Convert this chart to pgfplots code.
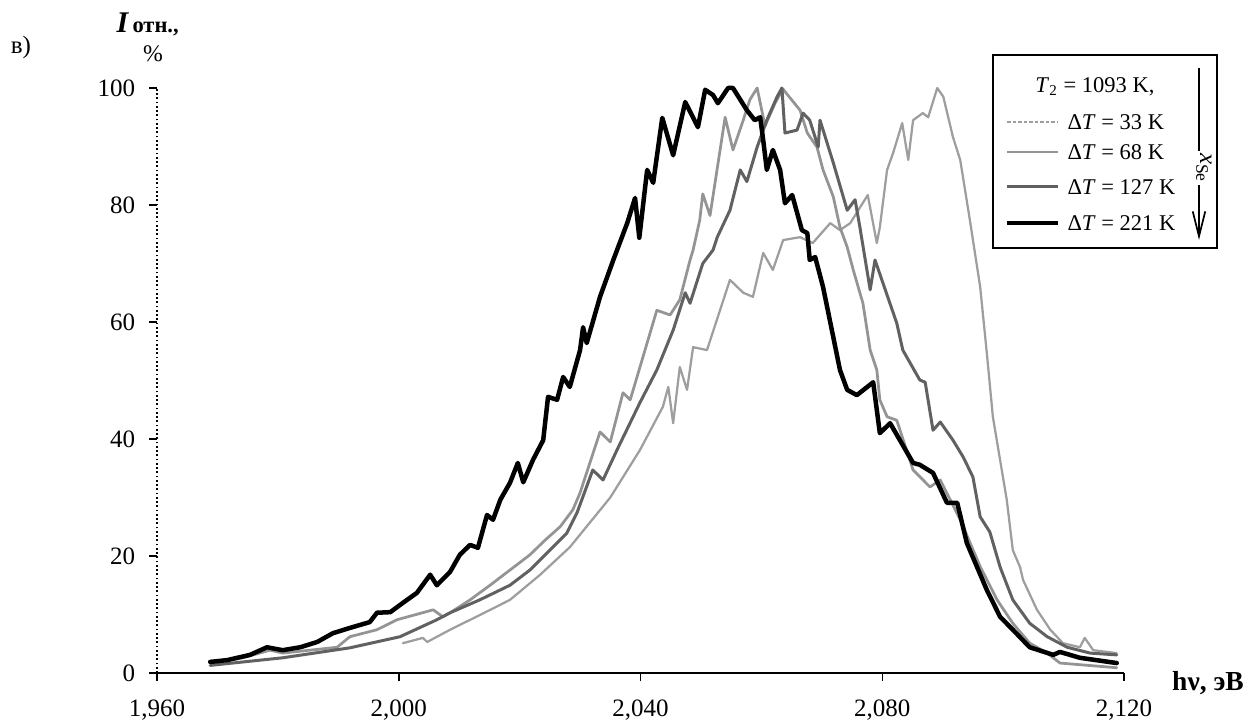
\documentclass[border=0pt]{standalone}
\usepackage{fontspec}
\setmainfont{Liberation Serif}
\usepackage{pgfplots}
\pgfplotsset{compat=1.18}
\usetikzlibrary{arrows.meta}
\definecolor{cA}{gray}{0.62}
\definecolor{cB}{gray}{0.58}
\definecolor{cC}{gray}{0.38}
\begin{document}
\begin{tikzpicture}
\path[use as bounding box] (0,0) rectangle (500pt,288.8pt);
\begin{axis}[
  at={(62.8pt,19.6pt)}, anchor=south west,
  scale only axis, width=386.8pt, height=234pt,
  xmin=1960, xmax=2120, ymin=0, ymax=100,
  axis lines=left, axis line style={-, black, line width=0.7pt},
  every outer y axis line/.append style={densely dotted, line width=0.8pt},
  xtick={1960,2000,2040,2080,2120},
  xticklabels={{1,960},{2,000},{2,040},{2,080},{2,120}},
  ytick={0,20,40,60,80,100},
  tick align=outside, major tick length=3.2pt,
  tick style={black, line width=0.6pt, solid},
  ticklabel style={font=\fontsize{10}{12}\selectfont},
  xticklabel style={yshift=-4pt},
  yticklabel style={xshift=-2pt},
  /pgf/number format/assume math mode=true,
  no markers, clip=false,
  every axis plot/.append style={line join=round, line cap=round},
]
% Delta T = 33 K
\addplot[color=cA, line width=0.9pt] coordinates {
(2000.7,5.1)(2004.0,6.0)(2004.7,5.3)(2008.5,7.4)(2013.4,9.9)(2018.4,12.5)
(2023.4,16.8)(2028.3,21.5)(2035.0,30.0)(2039.9,38.1)(2043.7,45.5)(2044.6,48.9)
(2045.4,42.7)(2046.5,52.3)(2047.7,48.4)(2048.7,55.7)(2051.0,55.2)(2054.8,67.2)
(2057.0,65.0)(2058.6,64.3)(2060.3,71.8)(2061.9,68.9)(2063.6,74.0)(2066.4,74.5)
(2068.5,73.5)(2071.4,76.9)(2073.0,75.7)(2074.7,76.9)(2077.6,81.7)(2079.1,73.5)
(2079.6,76.2)(2080.8,86.0)(2081.8,88.9)(2083.3,94.0)(2084.3,87.7)(2085.1,94.5)
(2086.7,95.7)(2087.6,95.0)(2089.1,100.0)(2090.1,98.5)(2091.7,91.6)(2092.9,87.7)
(2094.5,77.4)(2096.2,66.0)(2097.3,54.7)(2098.3,43.8)(2100.6,29.6)(2101.6,21.0)
(2102.8,18.1)(2103.3,15.9)(2105.6,10.8)(2107.8,7.4)(2109.9,5.1)(2112.7,4.4)
(2113.5,6.0)(2114.9,3.9)(2118.8,3.4)
};
% Delta T = 68 K
\addplot[color=cB, line width=1.1pt] coordinates {
(1968.8,1.7)(1974.2,2.6)(1978.7,3.9)(1980.8,3.4)(1985.3,3.9)(1989.8,4.4)
(1991.9,6.2)(1996.4,7.4)(1999.7,9.1)(2005.7,10.8)(2007.3,9.6)(2008.5,10.3)
(2011.8,12.5)(2015.1,15.0)(2018.4,17.6)(2021.7,20.2)(2024.2,22.7)(2026.7,25.0)
(2028.8,27.9)(2030.0,30.8)(2033.3,41.2)(2035.0,39.5)(2037.1,47.9)(2038.3,46.7)
(2042.7,62.0)(2044.9,61.2)(2046.5,63.8)(2048.2,70.6)(2048.7,72.3)(2049.8,77.4)
(2050.3,81.9)(2051.5,78.2)(2054.0,95.0)(2055.3,89.4)(2057.0,94.5)(2058.1,98.0)
(2059.3,100.0)(2060.6,93.5)(2062.3,97.5)(2063.6,99.8)(2064.2,99.0)(2066.4,96.2)
(2067.6,92.3)(2069.2,89.9)(2070.2,86.0)(2071.9,81.4)(2073.0,76.2)(2074.2,72.8)
(2075.2,68.9)(2076.8,63.2)(2078.0,55.2)(2079.1,51.8)(2079.6,46.7)(2080.8,43.8)
(2082.4,43.2)(2085.1,34.7)(2087.9,31.8)(2089.6,33.0)(2092.9,26.2)(2096.2,18.2)
(2099.0,12.5)(2101.6,8.5)(2104.4,5.1)(2107.3,3.4)(2109.4,1.7)(2118.8,0.9)
};
% Delta T = 127 K
\addplot[color=cC, line width=1.2pt] coordinates {
(1968.8,1.3)(1980.8,2.6)(1991.9,4.3)(2000.2,6.2)(2006.3,9.1)(2008.5,10.3)
(2013.4,12.5)(2018.4,15.0)(2021.7,17.6)(2025.0,21.0)(2027.8,23.9)(2029.5,27.4)
(2032.1,34.7)(2033.8,33.0)(2036.1,38.1)(2039.9,46.2)(2042.7,51.8)(2045.4,58.6)
(2047.4,65.0)(2048.2,63.2)(2050.3,70.0)(2052.0,72.3)(2052.7,74.5)(2054.8,79.1)
(2056.5,86.0)(2057.6,84.0)(2059.3,89.9)(2060.9,94.5)(2062.6,98.5)(2063.4,100.0)
(2063.9,92.3)(2065.9,92.8)(2066.9,95.7)(2068.0,94.5)(2069.4,89.9)(2069.7,94.5)
(2071.9,87.2)(2074.2,79.1)(2075.5,80.9)(2076.3,76.2)(2078.0,65.5)(2078.8,70.6)
(2080.1,66.7)(2082.4,59.8)(2083.4,55.2)(2086.2,50.1)(2087.1,49.7)(2088.4,41.5)
(2089.6,42.9)(2091.7,39.8)(2093.4,36.9)(2095.0,33.5)(2096.2,26.7)(2097.8,24.1)
(2099.5,18.1)(2101.6,12.5)(2104.4,8.5)(2107.3,6.2)(2110.6,4.4)(2114.4,3.4)
(2118.8,3.1)
};
% Delta T = 221 K
\addplot[color=black, line width=1.8pt] coordinates {
(1968.8,1.9)(1971.6,2.2)(1975.4,3.1)(1978.2,4.4)(1980.8,3.9)(1983.7,4.4)
(1986.5,5.3)(1989.1,6.8)(1991.9,7.7)(1995.2,8.7)(1996.4,10.3)(1998.6,10.4)
(2000.7,12.0)(2003.0,13.7)(2005.2,16.8)(2006.3,15.0)(2008.5,17.3)(2010.1,20.2)
(2011.8,21.9)(2013.1,21.4)(2014.6,27.0)(2015.6,26.2)(2016.8,29.6)(2018.4,32.5)
(2019.7,35.9)(2020.6,32.6)(2022.2,36.4)(2023.9,39.8)(2024.7,47.2)(2026.2,46.7)
(2027.2,50.6)(2028.3,48.9)(2030.0,55.2)(2030.5,59.1)(2031.1,56.4)(2033.3,64.3)
(2035.5,70.6)(2037.8,76.9)(2039.1,81.2)(2039.8,74.4)(2041.1,86.0)(2042.1,83.8)
(2043.6,94.9)(2045.4,88.5)(2047.4,97.6)(2049.5,93.3)(2050.7,99.7)(2052.0,98.8)
(2052.8,97.4)(2054.5,100.0)(2055.3,100.0)(2057.6,96.2)(2058.9,94.5)(2059.8,95.0)
(2060.3,91.1)(2060.9,86.0)(2061.9,89.4)(2063.1,86.0)(2063.9,80.3)(2065.1,81.7)
(2066.7,75.7)(2067.6,75.2)(2068.0,70.6)(2068.9,71.1)(2070.2,66.0)(2071.9,57.4)
(2073.0,51.8)(2074.2,48.4)(2075.8,47.5)(2078.5,49.7)(2079.6,41.0)(2081.3,42.7)
(2085.1,35.9)(2086.2,35.6)(2088.4,34.2)(2090.7,29.1)(2092.4,29.1)(2094.0,22.2)
(2097.3,14.2)(2099.5,9.6)(2101.6,7.4)(2104.4,4.4)(2108.3,3.1)(2109.4,3.6)
(2112.7,2.6)(2118.8,1.7)
};
\end{axis}
\begin{scope}[x=0.4pt, y=-0.4pt, shift={(0,288.8pt)}]
  % axis titles
  \node[anchor=base west, inner sep=0pt, font=\bfseries\itshape\fontsize{12}{14}\selectfont] at (116,33) {I};
  \node[anchor=base west, inner sep=0pt, font=\bfseries\fontsize{9}{11}\selectfont] at (132,33) {отн.,};
  \node[inner sep=0pt, font=\fontsize{9.5}{11}\selectfont] at (153,54) {\%};
  \node[inner sep=0pt, font=\fontsize{10}{12}\selectfont] at (21,47) {в)};
  \node[inner sep=0pt, font=\bfseries\fontsize{11}{13}\selectfont] at (1208,683) {hν, эВ};
  % legend
  \draw[line width=0.8pt] (993,55) rectangle (1217,248);
  \node[font=\fontsize{9}{11}\selectfont] at (1095,87) {\textit{T}\textsubscript{2} = 1093 K,};
  \draw[cA, line width=0.9pt, dash pattern=on 1.5pt off 0.7pt] (1007,122) -- (1058,122);
  \draw[cB, line width=1.1pt] (1007,152) -- (1058,152);
  \draw[cC, line width=1.2pt] (1007,187) -- (1058,187);
  \draw[black, line width=1.8pt] (1007,223) -- (1058,223);
  \node[anchor=west, inner sep=0pt, font=\fontsize{9}{11}\selectfont] at (1067,122) {Δ\textit{T} = 33 K};
  \node[anchor=west, inner sep=0pt, font=\fontsize{9}{11}\selectfont] at (1067,152) {Δ\textit{T} = 68 K};
  \node[anchor=west, inner sep=0pt, font=\fontsize{9}{11}\selectfont] at (1067,187) {Δ\textit{T} = 127 K};
  \node[anchor=west, inner sep=0pt, font=\fontsize{9}{11}\selectfont] at (1067,223) {Δ\textit{T} = 221 K};
  \draw[line width=0.7pt, -{Straight Barb[length=10pt,width=5pt]}] (1199,68) -- (1199,240);
  \node[rotate=-90, fill=white, inner sep=1pt, font=\fontsize{10}{12}\selectfont] at (1204,168) {\textit{x}\textsubscript{Se}};
\end{scope}
\end{tikzpicture}
\end{document}
